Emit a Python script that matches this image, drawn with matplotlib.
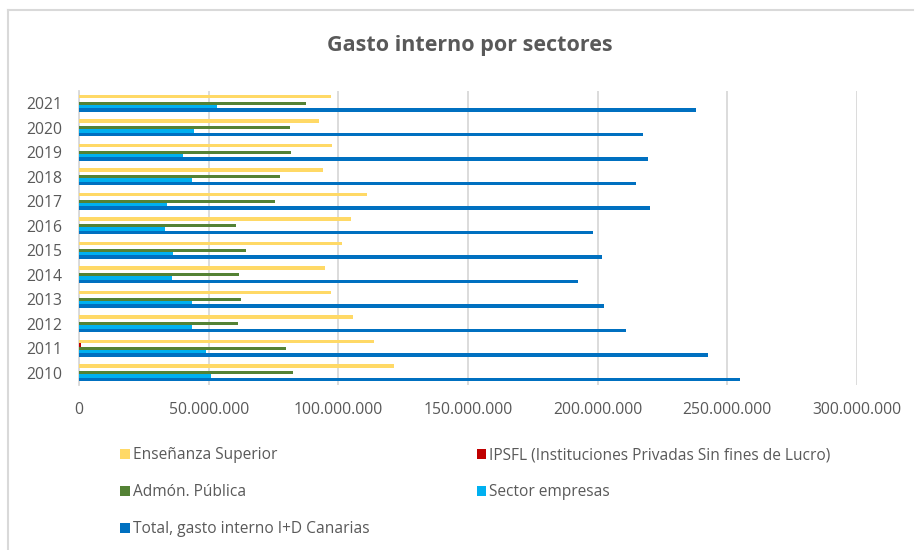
import numpy as np
import matplotlib
matplotlib.use("Agg")
import matplotlib.pyplot as plt
from matplotlib.lines import Line2D
from matplotlib.patches import Patch
from matplotlib.ticker import FuncFormatter

plt.rcParams["font.family"] = ["Open Sans", "DejaVu Sans"]

# values in millions of euros
years = ["2010", "2011", "2012", "2013", "2014", "2015",
         "2016", "2017", "2018", "2019", "2020", "2021"]
ensenanza = [121.4, 113.9, 105.8, 97.3, 95.0, 101.5, 104.9, 111.0, 93.9, 97.7, 92.5, 97.3]
ipsfl = [0.0, 0.8, 0.0, 0.0, 0.0, 0.0, 0.0, 0.0, 0.0, 0.0, 0.0, 0.0]
admon = [82.7, 79.8, 61.4, 62.3, 61.8, 64.3, 60.4, 75.6, 77.5, 81.7, 81.2, 87.4]
empresas = [51.0, 49.1, 43.4, 43.4, 35.7, 36.4, 33.0, 33.9, 43.4, 40.1, 44.3, 53.3]
total = [254.8, 242.6, 211.0, 202.4, 192.5, 201.5, 198.3, 220.0, 214.9, 219.5, 217.5, 237.9]

series = [
    ("Enseñanza Superior", ensenanza, "#FFD966"),
    ("IPSFL (Instituciones Privadas Sin fines de Lucro)", ipsfl, "#C00000"),
    ("Admón. Pública", admon, "#548235"),
    ("Sector empresas", empresas, "#00B0F0"),
    ("Total, gasto interno I+D Canarias", total, "#0070C0"),
]

txt = "#595959"
grid = "#D9D9D9"

fig = plt.figure(figsize=(9.15, 5.5), dpi=100)
ax = fig.add_axes([79 / 915, 1 - 385 / 550, (857 - 79) / 915, (385 - 91) / 550])

y = np.arange(len(years))
h = 0.14
for i, (name, vals, col) in enumerate(series):
    off = (2 - i) * h
    ax.barh(y + off, np.array(vals) * 1e6, height=h, color=col, zorder=3, label=name)

ax.set_xlim(0, 300e6)
ax.set_ylim(-0.5, len(years) - 0.5)
ax.set_xticks(np.arange(0, 300e6 + 1, 50e6))
ax.xaxis.set_major_formatter(FuncFormatter(lambda v, p: f"{v:,.0f}".replace(",", ".")))
ax.set_yticks(y)
ax.set_yticklabels(years)
ax.tick_params(axis="both", length=0, colors=txt, labelsize=11.3)
ax.tick_params(axis="x", pad=12)
ax.tick_params(axis="y", pad=12)
ax.grid(axis="x", color=grid, linewidth=1.3, zorder=0)
for s in ["top", "right", "bottom"]:
    ax.spines[s].set_visible(False)
ax.spines["left"].set_color(grid)
ax.spines["left"].set_linewidth(1.3)

fig.text(470 / 915, 1 - 46 / 550, "Gasto interno por sectores", ha="center", va="center",
         fontsize=15.5, fontweight="bold", color=txt)

# legend: first column gets three entries, second gets two
order = [0, 2, 4, 1, 3]
handles = [Patch(facecolor=series[k][2], edgecolor="none") for k in order]
labels = [series[k][0] for k in order]
fig.legend(handles, labels, loc="upper left", bbox_to_anchor=(114 / 915, 1 - 441 / 550),
           ncol=2, frameon=False, fontsize=11.2, labelcolor=txt,
           handlelength=0.6, handleheight=0.6, handletextpad=0.2,
           columnspacing=6.9, labelspacing=1.35, borderaxespad=0)

# chart area outline (top and left edges visible in the reference)
fig.add_artist(Line2D([8 / 915, 913 / 915], [1 - 10 / 550, 1 - 10 / 550],
                      transform=fig.transFigure, color=grid, linewidth=1.5))
fig.add_artist(Line2D([8 / 915, 8 / 915], [0, 1 - 10 / 550],
                      transform=fig.transFigure, color=grid, linewidth=1.5))

fig.savefig("out.png", dpi=100)
